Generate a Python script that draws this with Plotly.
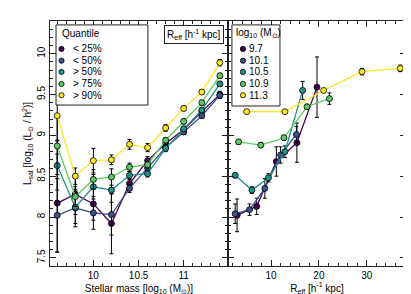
import plotly.graph_objects as go

colors = ["#440154", "#3b528b", "#21918c", "#5ec962", "#fde725"]

# Left panel: L_sat vs stellar mass, per R_eff quantile
mass = [9.6, 9.8, 10.0, 10.2, 10.4, 10.6, 10.8, 11.0, 11.2, 11.4]
quantile_labels = ["< 25%", "< 50%", "> 50%", "> 75%", "> 90%"]
lsat_q = [
    [8.17, 8.28, 8.16, 7.92, 8.41, 8.69, 8.90, 9.07, 9.29, 9.50],
    [8.02, 8.11, 8.05, 8.03, 8.35, 8.60, 8.85, 9.04, 9.24, 9.49],
    [8.63, 8.12, 8.37, 8.33, 8.51, 8.53, 8.84, 9.08, 9.31, 9.63],
    [8.87, 8.25, 8.46, 8.49, 8.61, 8.64, 8.94, 9.17, 9.40, 9.73],
    [9.24, 8.50, 8.69, 8.70, 8.89, 8.85, 9.09, 9.33, 9.53, 9.89],
]
err_q = [
    [0.60, 0.25, 0.20, 0.37, 0.06, 0.05, 0.04, 0.04, 0.03, 0.04],
    [0.45, 0.23, 0.20, 0.25, 0.05, 0.04, 0.04, 0.03, 0.03, 0.04],
    [0.30, 0.20, 0.15, 0.15, 0.05, 0.04, 0.04, 0.03, 0.03, 0.03],
    [0.35, 0.12, 0.12, 0.10, 0.05, 0.04, 0.03, 0.03, 0.03, 0.03],
    [0.30, 0.10, 0.15, 0.06, 0.06, 0.05, 0.04, 0.03, 0.03, 0.04],
]

# Right panel: L_sat vs R_eff, per stellar-mass bin
mass_labels = ["9.7", "10.1", "10.5", "10.9", "11.3"]
reff_m = [
    [2.9, 7.0, 11.1, 15.4, 19.6],
    [2.5, 5.5, 8.7, 12.0, 15.3],
    [2.5, 6.0, 9.45, 12.9, 16.6],
    [3.2, 7.85, 12.7, 17.5, 22.2],
    [4.9, 12.9, 21.0, 29.0, 37.0],
]
lsat_m = [
    [8.02, 8.13, 8.68, 8.91, 9.59],
    [8.04, 8.09, 8.35, 8.76, 9.01],
    [8.51, 8.33, 8.48, 8.80, 9.55],
    [8.92, 8.88, 8.97, 9.35, 9.45],
    [9.29, 9.29, 9.55, 9.78, 9.82],
]
err_m = [
    [0.20, 0.10, 0.18, 0.24, 0.37],
    [0.12, 0.07, 0.12, 0.10, 0.10],
    [0.03, 0.04, 0.05, 0.07, 0.11],
    [0.03, 0.03, 0.03, 0.03, 0.07],
    [0.02, 0.02, 0.02, 0.04, 0.04],
]

fig = go.Figure()

def add_series(x, y, e, color, xa, ya):
    fig.add_trace(go.Scatter(
        x=x, y=y, mode="lines+markers", xaxis=xa, yaxis=ya, showlegend=False,
        line=dict(color=color, width=1.3),
        marker=dict(color=color, size=6, line=dict(color="black", width=0.8)),
        error_y=dict(type="data", array=e, color="black", thickness=1, width=2),
    ))

for i in range(5):
    add_series(mass, lsat_q[i], err_q[i], colors[i], "x", "y")
for i in range(5):
    add_series(reff_m[i], lsat_m[i], err_m[i], colors[i], "x2", "y2")

font = "Liberation Sans, Arial, sans-serif"
axcommon = dict(showgrid=False, zeroline=False, showline=True, linecolor="#222",
                linewidth=1.3, mirror="allticks", ticks="inside", ticklen=6,
                tickcolor="#222", tickwidth=1, tickfont=dict(size=10, color="black"),
                automargin=False)

# ---- hand-built legends (compact, marker-only like the reference) ----
shapes = []
annotations = []

def build_legend(x0, x1, y0, y1, title, title_x, title_y, mx, tx, ys, labels):
    shapes.append(dict(type="rect", xref="paper", yref="paper", x0=x0, x1=x1, y0=y0, y1=y1,
                       fillcolor="white", line=dict(color="#222", width=1), layer="above"))
    annotations.append(dict(xref="paper", yref="paper", x=title_x, y=title_y,
                            xanchor="left", yanchor="middle", showarrow=False,
                            text=title, font=dict(size=10)))
    for c, yy, lab in zip(colors, ys, labels):
        shapes.append(dict(type="circle", xref="paper", yref="paper",
                           xsizemode="pixel", ysizemode="pixel", xanchor=mx, yanchor=yy,
                           x0=-2.6, x1=2.6, y0=-2.6, y1=2.6, fillcolor=c,
                           line=dict(color="black", width=0.8), layer="above"))
        annotations.append(dict(xref="paper", yref="paper", x=tx, y=yy,
                                xanchor="left", yanchor="middle", showarrow=False,
                                text=lab, font=dict(size=10)))

entry_y = [0.886, 0.838, 0.792, 0.743, 0.697]
build_legend(0.0169, 0.275, 0.657, 0.984, "Quantile", 0.027, 0.947,
             0.0323, 0.058, entry_y, quantile_labels)
build_legend(0.511, 0.646, 0.653, 0.984, "log<sub>10</sub> (M<sub>⊙</sub>)", 0.516, 0.951,
             0.542, 0.553, entry_y, mass_labels)

annotations.append(dict(xref="paper", yref="paper", x=0.49, y=0.984, xanchor="right",
                        yanchor="top", showarrow=False,
                        text="R<sub>eff</sub> [h<sup>-1</sup> kpc]",
                        font=dict(size=10), bgcolor="white", bordercolor="#222",
                        borderwidth=1, borderpad=2))

fig.update_layout(
    width=411, height=294,
    margin=dict(l=42, r=13, t=13, b=36, autoexpand=False),
    paper_bgcolor="white", plot_bgcolor="white",
    font=dict(family=font, size=10, color="black"),
    showlegend=False,
    xaxis=dict(domain=[0, 0.5], range=[9.52, 11.49], tickvals=[10, 10.5, 11],
               ticktext=["10", "10.5", "11"],
               minor=dict(ticks="inside", dtick=0.1, ticklen=3, tickcolor="#222"),
               title=dict(text="Stellar mass [log<sub>10</sub> (M<sub>⊙</sub>)]",
                          font=dict(size=10), standoff=4),
               **axcommon),
    yaxis=dict(range=[7.4, 10.4], tickvals=[7.5, 8, 8.5, 9, 9.5, 10],
               ticktext=["7.5", "8", "8.5", "9", "9.5", "10"], tickangle=-90,
               minor=dict(ticks="inside", dtick=0.1, ticklen=3, tickcolor="#222"),
               title=dict(text="L<sub>sat</sub> [log<sub>10</sub> (L<sub>⊙</sub> / h<sup>2</sup>)]",
                          font=dict(size=10), standoff=2),
               **axcommon),
    xaxis2=dict(domain=[0.5, 1], range=[1, 38.2], anchor="y2",
                tickvals=[10, 20, 30], ticktext=["10", "20", "30"],
                minor=dict(ticks="inside", dtick=2, ticklen=3, tickcolor="#222"),
                title=dict(text="R<sub>eff</sub> [h<sup>-1</sup> kpc]",
                           font=dict(size=10), standoff=4),
                **axcommon),
    yaxis2=dict(range=[7.4, 10.4], anchor="x2", tickvals=[7.5, 8, 8.5, 9, 9.5, 10],
                showticklabels=False,
                minor=dict(ticks="inside", dtick=0.1, ticklen=3, tickcolor="#222"),
                **axcommon),
    shapes=shapes,
    annotations=annotations,
)

fig.write_html("out.html")
